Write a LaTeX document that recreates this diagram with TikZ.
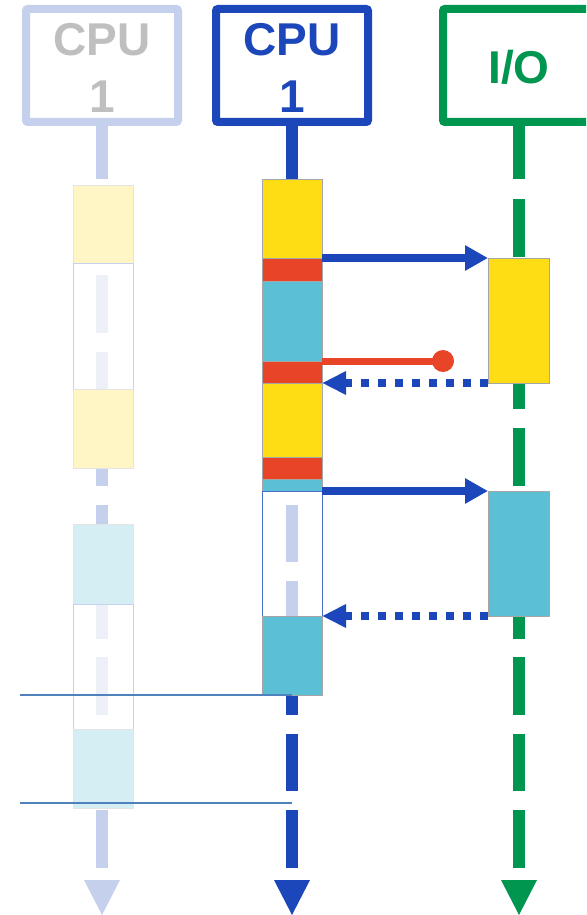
\documentclass[tikz,border=0pt]{standalone}
\usepackage{fontspec}
\setmainfont{Liberation Sans}
\usetikzlibrary{arrows.meta}
\definecolor{dblue}{HTML}{1C47BB}
\definecolor{dgreen}{HTML}{00964F}
\definecolor{ghost}{HTML}{C5D0EC}
\definecolor{ghostgray}{HTML}{BFBFBF}
\definecolor{ghostline}{HTML}{C8D2EE}
\definecolor{ghostborder}{HTML}{E4E4E4}
\definecolor{cyel}{HTML}{FFDD15}
\definecolor{ccyan}{HTML}{5BC0D6}
\definecolor{cred}{HTML}{E84427}
\definecolor{gyel}{HTML}{FFF5C5}
\definecolor{gcyan}{HTML}{D5EEF3}
\definecolor{boxgray}{HTML}{A6A6A6}
\definecolor{hblue}{HTML}{4F81BD}
\tikzset{
  hdr/.style={draw, line width=8pt, rounded corners=2pt, minimum width=152pt,
    minimum height=113pt, inner sep=0pt, outer sep=0pt},
  htxt/.style={inner sep=0pt, align=center, font=\fontsize{46}{56.5}\selectfont\bfseries},
  act/.style={draw=boxgray, line width=0.8pt, anchor=north west, minimum width=60pt,
    inner sep=0pt, outer sep=0pt},
  gact/.style={draw=ghostborder, line width=0.8pt, anchor=north west, minimum width=60pt,
    inner sep=0pt, outer sep=0pt},
  stem/.style={line width=12pt},
  lifedash/.style={line width=12pt, dash pattern=on 57.6pt off 18.8pt},
  sarrow/.style={dblue, line width=8pt, -{Triangle[length=23pt,width=24pt]}},
  darrow/.style={dblue, line width=8pt, dash pattern=on 8pt off 9pt, -{Triangle[length=24pt,width=22pt]}},
  redl/.style={cred, line width=7pt},
  hline/.style={hblue, line width=1.6pt}
}
\begin{document}
\begin{tikzpicture}[x=1pt,y=-1pt]
\useasboundingbox (0,0) rectangle (586,915);
\clip (0,0) rectangle (586,915);

% headers
\node[hdr, draw=ghost] (g) at (102,65.5) {};
\node[htxt, text=ghostgray, yshift=-2.5pt] (gt) at (g.center) {CPU\\1};
\node[hdr, draw=dblue] (c) at (292,65.5) {};
\node[htxt, text=dblue, yshift=-2.5pt] (ct) at (c.center) {CPU\\1};
\node[hdr, draw=dgreen] (io) at (519,65.5) {};
\node[htxt, text=dgreen, yshift=-1.5pt] (iot) at (io.center) {I/O};

% end coordinates
\coordinate (gS) at (102,179); \coordinate (gD) at (102,199); \coordinate (gE) at (102,868);
\coordinate (cS) at (292,179); \coordinate (cD) at (292,199); \coordinate (cE) at (292,868);
\coordinate (iS) at (519,179); \coordinate (iD) at (519,199); \coordinate (iE) at (519,868);

% lifelines
\draw[stem, ghost] (g.south) -- (gS);
\draw[lifedash, ghost] (gD) -- (gE);
\fill[ghost] (84,880) -- (120,880) -- (102,915) -- cycle;
\draw[stem, dblue] (c.south) -- (cS);
\draw[lifedash, dblue] (cD) -- (cE);
\fill[dblue] (274,880) -- (310,880) -- (292,915) -- cycle;
\draw[stem, dgreen] (io.south) -- (iS);
\draw[lifedash, dgreen] (iD) -- (iE);
\fill[dgreen] (501,880) -- (537,880) -- (519,915) -- cycle;

% ghost column boxes
\node[gact, fill=gyel, minimum height=78pt] (gy1) at (73,185) {};
\node[gact, draw=ghostline, fill=white, fill opacity=0.7, minimum height=126pt] (gw1) at (73,263) {};
\node[gact, fill=gyel, minimum height=79pt] (gy2) at (73,389) {};
\node[gact, fill=gcyan, minimum height=80pt] (gc1) at (73,524) {};
\node[gact, draw=ghostline, fill=white, fill opacity=0.7, minimum height=125pt] (gw2) at (73,604) {};
\node[gact, fill=gcyan, minimum height=79pt] (gc2) at (73,729) {};

% CPU column boxes
\node[act, fill=cyel, minimum height=79pt] (b1) at (262,179) {};
\node[act, fill=cred, minimum height=23pt] (r1) at (262,258) {};
\node[act, fill=ccyan, minimum height=80pt] (c1) at (262,281) {};
\node[act, fill=cred, minimum height=22pt] (r2) at (262,361) {};
\node[act, fill=cyel, minimum height=74pt] (y2) at (262,383) {};
\node[act, fill=cred, minimum height=22pt] (r3) at (262,457) {};
\node[act, fill=ccyan, minimum height=12pt] (c2) at (262,479) {};
\node[act, fill=white, draw=none, minimum height=125pt] (w1) at (262,491) {};
\begin{scope}
  \clip (262,491) rectangle (322,616);
  \draw[lifedash, ghost] (cD) -- (cE);
\end{scope}
\node[act, draw=dblue!80, line width=1pt, minimum height=125pt] (w1b) at (262,491) {};
\node[act, fill=ccyan, minimum height=79pt] (c3) at (262,616) {};

% I/O boxes
\node[act, fill=cyel, minimum width=61pt, minimum height=125pt] (io1) at (488,258) {};
\node[act, fill=ccyan, minimum width=61pt, minimum height=125pt] (io2) at (488,491) {};

% messages
\draw[sarrow] (r1.north east) -- (io1.north west);
\node[circle, fill=cred, minimum size=22pt, inner sep=0pt] (ball) at (443,361) {};
\draw[redl] (r2.north east) -- (ball.center);
\draw[darrow] (io1.south west) -- (y2.north east);
\draw[sarrow] (c2.south east) -- (io2.north west);
\draw[darrow] (io2.south west) -- (c3.north east);

% horizontal lines
\coordinate (h1a) at (20,695); \coordinate (h1b) at (292,695);
\coordinate (h2a) at (20,803); \coordinate (h2b) at (292,803);
\draw[hline] (h1a) -- (h1b);
\draw[hline] (h2a) -- (h2b);
\end{tikzpicture}
\end{document}
